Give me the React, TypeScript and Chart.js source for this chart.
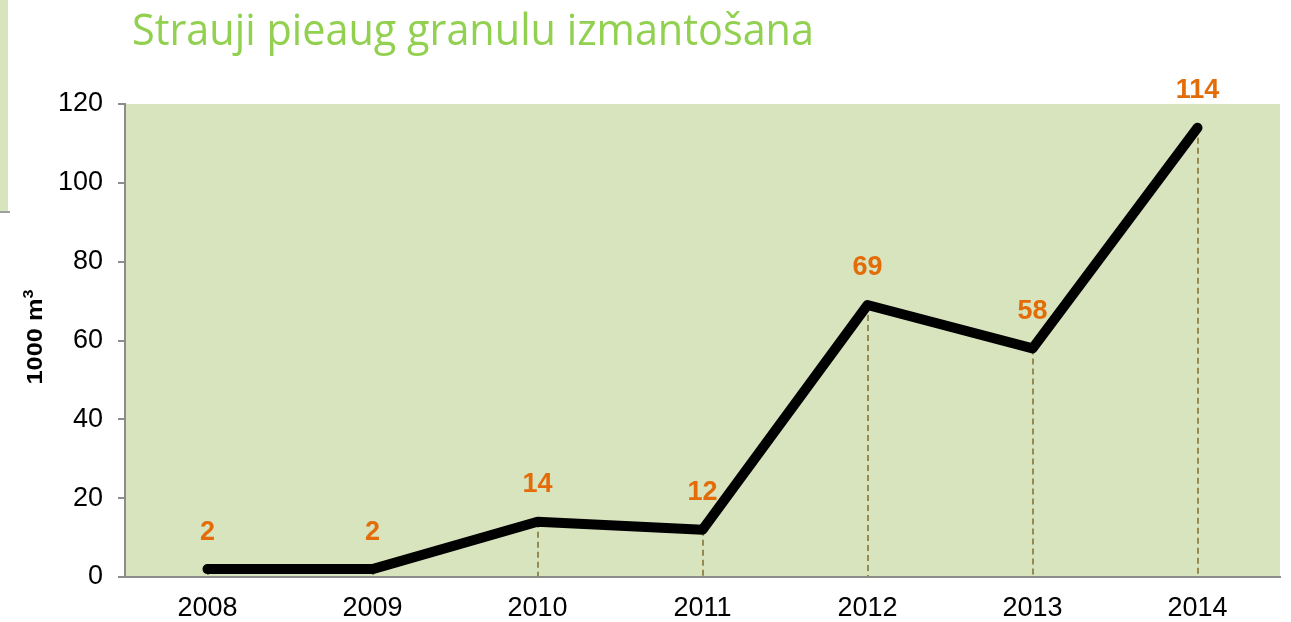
import React, { useEffect, useRef } from "react";
import { Chart, registerables } from "chart.js";

Chart.register(...registerables);

const TITLE = "Strauji pieaug granulu izmantošana";
const Y_TITLE = "1000 m";
const Y_TITLE_SUP = "3";
const YEARS = ["2008", "2009", "2010", "2011", "2012", "2013", "2014"];
const VALUES = [2, 2, 14, 12, 69, 58, 114];
const Y_MIN = 0;
const Y_MAX = 120;
const Y_STEP = 20;

const decorPlugin = {
  id: "decor",
  beforeDraw(chart: any) {
    const { ctx, chartArea } = chart;
    ctx.save();
    // left side panel
    ctx.fillStyle = "#D7E4BD";
    ctx.fillRect(0, 0, 8, 211);
    ctx.strokeStyle = "#7F7F7F";
    ctx.lineWidth = 1.5;
    ctx.beginPath();
    ctx.moveTo(0, 212);
    ctx.lineTo(10, 212);
    ctx.stroke();
    // plot background
    ctx.fillStyle = "#D7E4BD";
    ctx.fillRect(chartArea.left, chartArea.top, chartArea.right - chartArea.left, chartArea.bottom - chartArea.top);
    // title
    ctx.font = "44px 'Open Sans'";
    ctx.fillStyle = "#92D050";
    ctx.textBaseline = "alphabetic";
    ctx.textAlign = "left";
    const w = ctx.measureText(TITLE).width;
    const sx = 682 / w;
    ctx.translate(132, 45);
    ctx.scale(sx, 1);
    ctx.fillText(TITLE, 0, 0);
    ctx.restore();

    // y axis title
    ctx.save();
    ctx.fillStyle = "#000";
    ctx.font = "bold 22px 'Liberation Sans'";
    const mainW = ctx.measureText(Y_TITLE).width;
    ctx.font = "bold 14px 'Liberation Sans'";
    const supW = ctx.measureText(Y_TITLE_SUP).width;
    const total = mainW + supW;
    const scaleR = 95 / total;
    ctx.translate(42, 337);
    ctx.rotate(-Math.PI / 2);
    ctx.scale(scaleR, 1);
    ctx.textBaseline = "alphabetic";
    ctx.textAlign = "left";
    ctx.font = "bold 22px 'Liberation Sans'";
    ctx.fillText(Y_TITLE, -total / 2, 0);
    ctx.font = "bold 14px 'Liberation Sans'";
    ctx.fillText(Y_TITLE_SUP, -total / 2 + mainW, -9);
    ctx.restore();
  },
  beforeDatasetsDraw(chart: any) {
    const { ctx, chartArea } = chart;
    const meta = chart.getDatasetMeta(0);
    ctx.save();
    ctx.strokeStyle = "#948A54";
    ctx.lineWidth = 2;
    ctx.setLineDash([6, 4]);
    meta.data.forEach((pt: any) => {
      const x = Math.round(pt.x);
      ctx.beginPath();
      ctx.moveTo(x, pt.y);
      ctx.lineTo(x, chartArea.bottom);
      ctx.stroke();
    });
    ctx.restore();
  },
  afterDatasetsDraw(chart: any) {
    const { ctx } = chart;
    const meta = chart.getDatasetMeta(0);
    ctx.save();
    ctx.fillStyle = "#E36C09";
    ctx.font = "bold 27px 'Liberation Sans'";
    ctx.textAlign = "center";
    ctx.textBaseline = "middle";
    meta.data.forEach((pt: any, i: number) => {
      ctx.fillText(String(VALUES[i]), pt.x, pt.y - 37);
    });
    ctx.restore();
  },
};

export default function App() {
  const ref = useRef<HTMLCanvasElement | null>(null);
  useEffect(() => {
    if (!ref.current) return;
    const chart = new Chart(ref.current, {
      type: "line",
      data: {
        labels: YEARS,
        datasets: [
          {
            data: VALUES,
            borderColor: "#000000",
            borderWidth: 10,
            pointRadius: 0,
            tension: 0,
            borderCapStyle: "round",
            borderJoinStyle: "round",
            clip: false as any,
          },
        ],
      },
      options: {
        animation: false,
        responsive: false,
        devicePixelRatio: 1,
        layout: { padding: { top: 104, right: 11, left: 0, bottom: 0 } },
        plugins: { legend: { display: false }, tooltip: { enabled: false }, title: { display: false } },
        scales: {
          x: {
            offset: true,
            grid: { display: false, drawTicks: false },
            border: { display: true, color: "#8C8C8C", width: 2 },
            ticks: { color: "#000", font: { family: "'Liberation Sans'", size: 27 }, padding: 15, maxRotation: 0 },
            afterFit(scale: any) {
              scale.height = 45;
            },
          },
          y: {
            min: Y_MIN,
            max: Y_MAX,
            grid: { drawOnChartArea: false, drawTicks: true, tickLength: 7, color: "#8C8C8C", lineWidth: 2 },
            border: { display: true, color: "#8C8C8C", width: 2 },
            ticks: { stepSize: Y_STEP, color: "#000", font: { family: "'Liberation Sans'", size: 27 }, padding: 15 },
            afterFit(scale: any) {
              scale.width = 125;
            },
          },
        },
      },
      plugins: [decorPlugin],
    });
    return () => chart.destroy();
  }, []);
  return (
    <div style={{ position: "fixed", left: 0, top: 0, width: 1291, height: 622, background: "#fff" }}>
      <canvas ref={ref} width={1291} height={622} />
    </div>
  );
}
